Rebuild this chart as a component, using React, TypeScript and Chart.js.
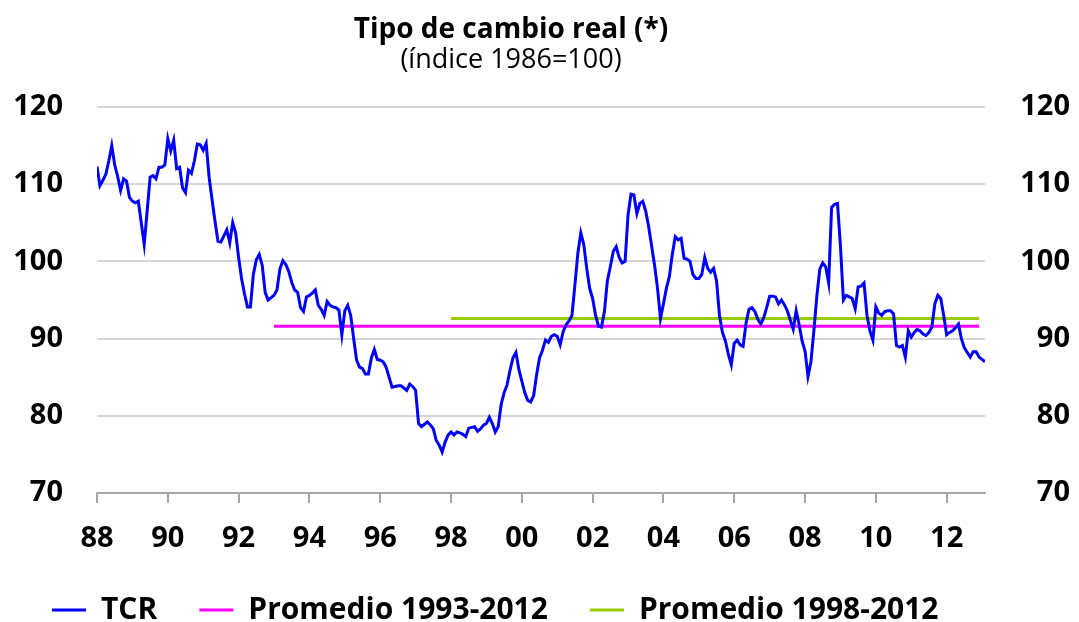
import React, { useEffect, useRef } from "react";
import { Chart, registerables } from "chart.js";

Chart.register(...registerables);

const TITLE = "Tipo de cambio real (*)";
const SUBTITLE = "(índice 1986=100)";
const FONT = "'Open Sans', 'Noto Sans', sans-serif";

// Monthly observations start in January of this year
const START_YEAR = 1988;

// x-axis labels, one every two years (Jan 88, Jan 90, ...)
const X_TICK_LABELS = ["88", "90", "92", "94", "96", "98", "00", "02", "04", "06", "08", "10", "12"];
const MONTHS_PER_X_TICK = 24;

// y-axis
const Y_MIN = 70;
const Y_MAX = 120;
const Y_STEP = 10;

// Real exchange rate index (TCR), monthly, Jan 1988 - Feb 2013
const TCR = [
  // 1988
  112.3, 109.8, 110.5, 111.3, 113.0, 115.0, 112.5, 111.0, 109.2, 110.7, 110.4, 108.3,
  // 1989
  107.8, 107.6, 107.8, 105.0, 102.2, 106.5, 110.9, 111.1, 110.7, 112.2, 112.2, 112.5,
  // 1990
  115.9, 114.3, 115.7, 112.0, 112.2, 109.5, 108.9, 111.8, 111.4, 113.0, 115.2, 115.1,
  // 1991
  114.4, 115.3, 110.9, 108.0, 105.2, 102.6, 102.5, 103.3, 104.1, 102.4, 105.0, 103.7,
  // 1992
  100.5, 97.8, 95.8, 94.1, 94.1, 98.3, 100.2, 100.9, 99.5, 96.0, 95.0, 95.3,
  // 1993
  95.6, 96.3, 99.0, 100.1, 99.6, 98.7, 97.3, 96.3, 96.0, 94.0, 93.5, 95.4,
  // 1994
  95.6, 95.9, 96.3, 94.3, 93.8, 93.0, 94.8, 94.3, 94.1, 94.0, 93.7, 90.5,
  // 1995
  93.6, 94.3, 93.0, 90.0, 87.2, 86.3, 86.1, 85.4, 85.4, 87.5, 88.6, 87.3,
  // 1996
  87.2, 87.0, 86.3, 85.0, 83.7, 83.8, 83.9, 83.9, 83.6, 83.3, 84.1, 83.8,
  // 1997
  83.3, 79.0, 78.6, 78.9, 79.2, 78.8, 78.3, 76.8, 76.2, 75.3, 76.6, 77.5,
  // 1998
  77.9, 77.5, 77.9, 77.8, 77.6, 77.3, 78.4, 78.5, 78.6, 78.0, 78.3, 78.8,
  // 1999
  79.0, 79.8, 79.0, 77.9, 78.6, 81.5, 83.0, 84.0, 85.9, 87.5, 88.2, 86.0,
  // 2000
  84.5, 83.0, 82.0, 81.8, 82.6, 85.3, 87.5, 88.5, 89.8, 89.5, 90.3, 90.5,
  // 2001
  90.3, 89.2, 90.9, 91.8, 92.3, 93.0, 97.0, 101.1, 103.7, 102.2, 99.1, 96.5,
  // 2002
  95.2, 93.0, 91.6, 91.5, 93.5, 97.5, 99.3, 101.3, 101.9, 100.5, 99.8, 100.0,
  // 2003
  106.0, 108.7, 108.6, 106.2, 107.5, 107.8, 106.5, 104.5, 102.0, 99.5, 96.5, 92.6,
  // 2004
  94.5, 96.5, 98.0, 100.9, 103.2, 102.8, 103.0, 100.4, 100.3, 100.0, 98.3, 97.8,
  // 2005
  97.8, 98.3, 100.5, 99.1, 98.6, 99.1, 97.5, 93.0, 90.8, 89.7, 88.0, 86.6,
  // 2006
  89.4, 89.8, 89.2, 89.0, 92.0, 93.8, 94.0, 93.5, 92.5, 91.9, 92.7, 94.0,
  // 2007
  95.5, 95.5, 95.4, 94.5, 95.0, 94.4, 93.6, 92.4, 91.2, 93.6, 91.8, 89.7,
  // 2008
  88.4, 85.1, 87.0, 91.0, 95.5, 99.0, 99.8, 99.3, 97.2, 107.0, 107.4, 107.5,
  // 2009
  102.0, 95.0, 95.6, 95.4, 95.2, 93.9, 96.7, 96.8, 97.2, 93.0, 91.0, 89.8,
  // 2010
  94.1, 93.3, 93.0, 93.5, 93.6, 93.6, 93.2, 89.1, 88.9, 89.1, 87.6, 91.0,
  // 2011
  90.2, 90.8, 91.2, 91.0, 90.6, 90.4, 90.8, 91.5, 94.5, 95.6, 95.2, 93.0,
  // 2012
  90.5, 90.8, 91.0, 91.4, 91.9, 90.0, 88.8, 88.2, 87.6, 88.3, 88.3, 87.6,
  // 2013
  87.3, 87.0,
];

// Period averages
const PROMEDIO_93_12 = 91.6;
const PROMEDIO_93_12_YEARS = [1993, 2012];
const PROMEDIO_98_12 = 92.6;
const PROMEDIO_98_12_YEARS = [1998, 2012];

const LABEL_TCR = "TCR";
const LABEL_P93 = "Promedio 1993-2012";
const LABEL_P98 = "Promedio 1998-2012";

const monthIndex = (year: number, month: number) => (year - START_YEAR) * 12 + month;

const avgSeries = (value: number, years: number[]) => [
  { x: monthIndex(years[0], 0), y: value },
  { x: monthIndex(years[1], 11), y: value },
];

export default function App() {
  const canvasRef = useRef<HTMLCanvasElement | null>(null);

  useEffect(() => {
    if (!canvasRef.current) return;
    const tickFont = { family: FONT, size: 29, weight: "bold" as const };
    const chart = new Chart(canvasRef.current, {
      type: "line",
      data: {
        datasets: [
          {
            label: LABEL_TCR,
            data: TCR.map((v, i) => ({ x: i, y: v })),
            borderColor: "#0000FF",
            backgroundColor: "#0000FF",
            borderWidth: 3,
            pointRadius: 0,
            tension: 0,
          },
          {
            label: LABEL_P93,
            data: avgSeries(PROMEDIO_93_12, PROMEDIO_93_12_YEARS),
            borderColor: "#FF00FF",
            backgroundColor: "#FF00FF",
            borderWidth: 3,
            pointRadius: 0,
          },
          {
            label: LABEL_P98,
            data: avgSeries(PROMEDIO_98_12, PROMEDIO_98_12_YEARS),
            borderColor: "#99CC00",
            backgroundColor: "#99CC00",
            borderWidth: 3,
            pointRadius: 0,
          },
        ],
      },
      options: {
        responsive: true,
        maintainAspectRatio: false,
        animation: false,
        layout: { padding: { left: 10, right: 67, top: 0, bottom: 0 } },
        plugins: {
          title: {
            display: true,
            text: TITLE,
            color: "#000",
            font: { family: FONT, size: 28, weight: "bold", lineHeight: 1 },
            padding: { top: 16, bottom: 0 },
          },
          subtitle: {
            display: true,
            text: SUBTITLE,
            color: "#000",
            font: { family: FONT, size: 27, weight: "normal", lineHeight: 1 },
            padding: { top: 3, bottom: 33 },
          },
          legend: {
            position: "bottom",
            align: "start",
            maxHeight: 69,
            labels: {
              usePointStyle: true,
              pointStyle: "line",
              pointStyleWidth: 34,
              padding: 42,
              color: "#000",
              font: { family: FONT, size: 30, weight: "bold" },
            },
          },
          tooltip: { enabled: false },
        },
        scales: {
          x: {
            type: "linear",
            min: 0,
            max: TCR.length - 1,
            afterBuildTicks: (scale: any) => {
              scale.ticks = X_TICK_LABELS.map((_, i) => ({ value: i * MONTHS_PER_X_TICK }));
            },
            ticks: {
              autoSkip: false,
              maxRotation: 0,
              padding: 18,
              color: "#000",
              font: { family: FONT, size: 29, weight: "bold" },
              callback: (_v: any, i: number) => X_TICK_LABELS[i],
            },
            grid: {
              drawOnChartArea: false,
              drawTicks: true,
              tickLength: 10,
              color: "#A6A6A6",
              lineWidth: 2,
            },
            border: { display: true, color: "#A6A6A6", width: 2 },
            afterFit: (scale: any) => {
              scale.height = 60;
            },
          },
          y: {
            position: "left",
            min: Y_MIN,
            max: Y_MAX,
            ticks: { stepSize: Y_STEP, padding: 34, color: "#000", font: tickFont },
            grid: {
              drawTicks: false,
              lineWidth: 2,
              color: (ctx: any) => (ctx.tick && ctx.tick.value === Y_MIN ? "rgba(0,0,0,0)" : "#D6D6D6"),
            },
            border: { display: false },
            afterFit: (scale: any) => {
              scale.width = 87;
            },
          },
          y2: {
            position: "right",
            min: Y_MIN,
            max: Y_MAX,
            ticks: {
              stepSize: Y_STEP,
              mirror: true,
              crossAlign: "near",
              padding: 85,
              color: "#000",
              font: tickFont,
            },
            grid: { display: false, drawTicks: false },
            border: { display: false },
            afterFit: (scale: any) => {
              scale.width = 27;
            },
          },
        },
      },
    } as any);
    return () => chart.destroy();
  }, []);

  return (
    <div
      style={{
        position: "fixed",
        left: 0,
        top: 0,
        width: 1079,
        height: 622,
        background: "#fff",
      }}
    >
      <canvas ref={canvasRef} />
    </div>
  );
}
